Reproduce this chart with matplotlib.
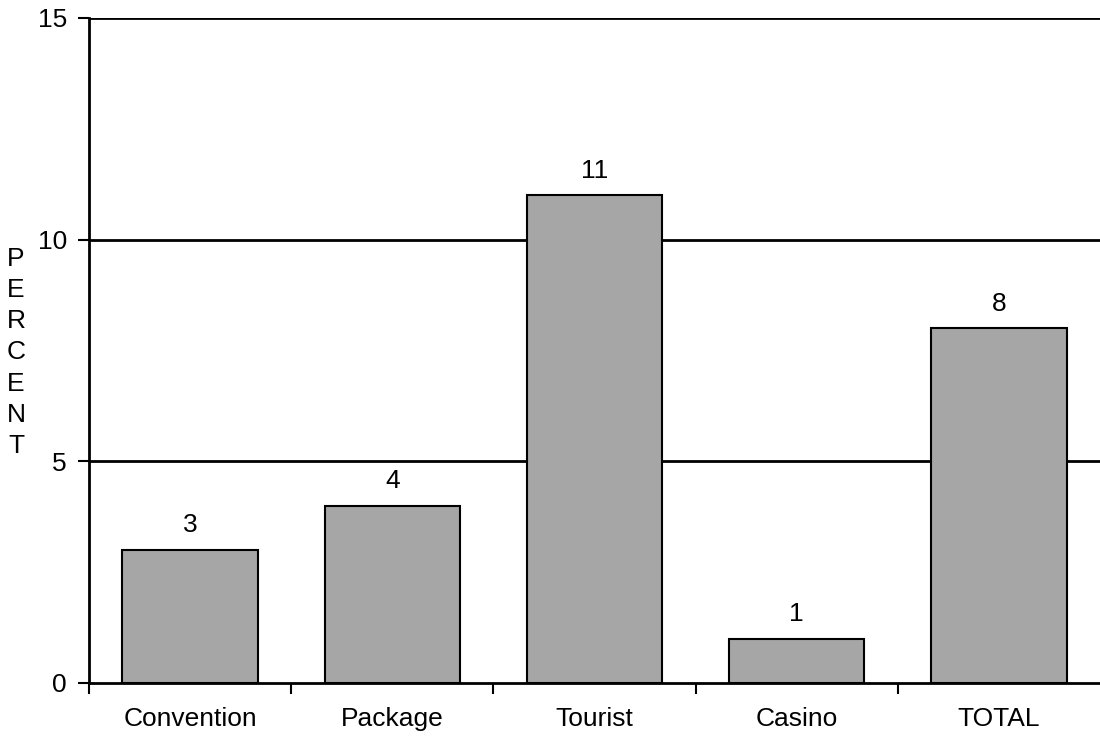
import matplotlib
matplotlib.use("Agg")
import matplotlib.pyplot as plt
from matplotlib.ticker import FixedLocator

plt.rcParams['font.family'] = ['Liberation Sans', 'DejaVu Sans']

categories = ["Convention", "Package", "Tourist", "Casino", "TOTAL"]
values = [3, 4, 11, 1, 8]
yticks = [0, 5, 10, 15]

fig = plt.figure(figsize=(11, 7.37), dpi=100)
ax = fig.add_axes([0.081, 0.0733, 0.919, 0.9023])

x = list(range(len(categories)))
ax.bar(x, values, width=0.67, color="#a6a6a6", edgecolor="black", linewidth=1.5, zorder=3)
for xi, v in zip(x, values):
    ax.annotate(str(v), (xi, v), xytext=(0, 9), textcoords="offset points",
                ha="center", va="bottom", fontsize=19, zorder=4)

ax.set_xlim(-0.5, len(categories) - 0.5)
ax.set_ylim(0, 15)
ax.set_yticks(yticks)
ax.set_yticklabels([str(t) for t in yticks], fontsize=19)
for t in yticks[1:]:
    ax.axhline(t, color="black", linewidth=2, zorder=1)

ax.set_xticks(x)
ax.set_xticklabels(categories, fontsize=19)
ax.tick_params(axis="x", which="major", length=0, pad=17)
ax.xaxis.set_minor_locator(FixedLocator([i + 0.5 for i in range(len(categories) - 1)] + [-0.5]))
ax.tick_params(axis="x", which="minor", length=8, width=1.5, direction="out")
ax.tick_params(axis="y", length=8, width=1.5, direction="out", pad=8)

for s in ["top", "right"]:
    ax.spines[s].set_visible(False)
for s in ["left", "bottom"]:
    ax.spines[s].set_linewidth(2)

fig.text(0.0145, 0.522, "P\nE\nR\nC\nE\nN\nT", ha="center", va="center",
         fontsize=19, linespacing=1.38)

fig.savefig("out.png", dpi=100)
